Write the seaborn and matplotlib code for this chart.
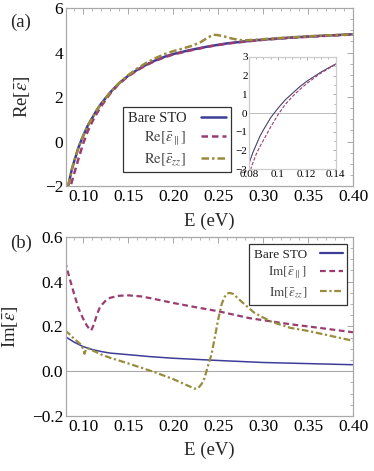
import numpy as np
import pandas as pd
import matplotlib
matplotlib.use("Agg")
import matplotlib.pyplot as plt
from matplotlib.ticker import MultipleLocator
from matplotlib.lines import Line2D
import seaborn as sns

# ---------------- data ----------------
E_re_bare = [0.080, 0.0825, 0.085, 0.0875, 0.09, 0.095, 0.10, 0.105, 0.11, 0.115, 0.12, 0.13,
             0.14, 0.15, 0.16, 0.17, 0.18, 0.19, 0.20, 0.22, 0.24, 0.26, 0.28, 0.30, 0.33, 0.36, 0.40]
re_bare = [-2.7, -2.15, -1.7, -1.25, -0.9, -0.25, 0.25, 0.7, 1.05, 1.4, 1.7, 2.2,
           2.62, 2.95, 3.22, 3.45, 3.64, 3.8, 3.93, 4.12, 4.28, 4.41, 4.5, 4.58, 4.67, 4.74, 4.82]

E_re_par = [0.080, 0.0825, 0.085, 0.0875, 0.09, 0.095, 0.10, 0.105, 0.11, 0.115, 0.12, 0.13,
            0.14, 0.15, 0.16, 0.17, 0.18, 0.19, 0.20, 0.22, 0.24, 0.26, 0.28, 0.30, 0.33, 0.36, 0.40]
re_par = [-3.3, -2.7, -2.2, -1.8, -1.45, -0.75, -0.1, 0.45, 0.88, 1.25, 1.58, 2.15,
          2.6, 2.93, 3.2, 3.43, 3.62, 3.78, 3.91, 4.1, 4.27, 4.4, 4.49, 4.57, 4.66, 4.73, 4.81]

E_re_zz = [0.080, 0.0825, 0.085, 0.0875, 0.09, 0.095, 0.10, 0.105, 0.11, 0.115, 0.12, 0.13,
           0.14, 0.15, 0.16, 0.17, 0.18, 0.19, 0.20, 0.21, 0.22, 0.23, 0.235, 0.24, 0.245,
           0.25, 0.255, 0.26, 0.265, 0.27, 0.275, 0.28, 0.29, 0.30, 0.33, 0.36, 0.40]
re_zz = [-2.7, -2.15, -1.7, -1.25, -0.9, -0.25, 0.25, 0.7, 1.05, 1.4, 1.7, 2.2,
         2.63, 2.98, 3.28, 3.53, 3.74, 3.92, 4.06, 4.17, 4.29, 4.45, 4.58, 4.7, 4.8,
         4.78, 4.74, 4.69, 4.63, 4.59, 4.56, 4.55, 4.57, 4.6, 4.68, 4.75, 4.82]

E_im_bare = [0.08, 0.09, 0.10, 0.11, 0.12, 0.13, 0.15, 0.175, 0.20, 0.25, 0.30, 0.35, 0.40]
im_bare = [0.155, 0.13, 0.11, 0.097, 0.088, 0.081, 0.074, 0.065, 0.058, 0.048, 0.039, 0.034, 0.029]

E_im_par = [0.08, 0.085, 0.09, 0.095, 0.10, 0.104, 0.107, 0.109, 0.111, 0.1135, 0.116, 0.119,
            0.125, 0.13, 0.14, 0.15, 0.165, 0.18, 0.20, 0.225, 0.25, 0.285, 0.30, 0.33, 0.36, 0.40]
im_par = [0.49, 0.415, 0.345, 0.28, 0.235, 0.205, 0.188, 0.182, 0.2, 0.229, 0.26, 0.289,
          0.315, 0.328, 0.337, 0.339, 0.334, 0.322, 0.305, 0.286, 0.268, 0.237, 0.228, 0.21, 0.195, 0.174]

E_im_zz = [0.08, 0.085, 0.09, 0.095, 0.098, 0.10, 0.1015, 0.103, 0.105, 0.108, 0.112, 0.12, 0.13,
           0.15, 0.165, 0.18, 0.20, 0.215, 0.224, 0.228, 0.232, 0.235, 0.239, 0.2427, 0.2465,
           0.25, 0.254, 0.257, 0.26, 0.263, 0.267, 0.276, 0.29, 0.30, 0.31, 0.33, 0.35, 0.375, 0.40]
im_zz = [0.182, 0.165, 0.145, 0.128, 0.118, 0.1, 0.078, 0.095, 0.103, 0.098, 0.09, 0.075, 0.06,
         0.035, 0.015, -0.005, -0.035, -0.062, -0.078, -0.075, -0.055, -0.03, 0.027, 0.075, 0.154,
         0.229, 0.3, 0.33, 0.347, 0.35, 0.345, 0.311, 0.262, 0.24, 0.22, 0.194, 0.18, 0.158, 0.136]

top_xticks = [0.10, 0.15, 0.20, 0.25, 0.30, 0.35, 0.40]
top_xlabels = ["0.10", "0.15", "0.20", "0.25", "0.30", "0.35", "0.40"]
top_yticks = [-2, 0, 2, 4, 6]
top_ylabels = ["\u22122", "0", "2", "4", "6"]
bot_yticks = [-0.2, 0.0, 0.2, 0.4, 0.6]
bot_ylabels = ["\u22120.2", "0.0", "0.2", "0.4", "0.6"]
ins_xticks = [0.08, 0.10, 0.12, 0.14]
ins_xlabels = ["0.08", "0.1", "0.12", "0.14"]
ins_yticks = [-3, -2, -1, 0, 1, 2, 3]
ins_ylabels = ["\u22123", "\u22122", "\u22121", "0", "1", "2", "3"]

labels_top = ["Bare STO", r"$\mathrm{Re}[\bar{\epsilon}_{\parallel}]$", r"$\mathrm{Re}[\bar{\epsilon}_{zz}]$"]
labels_bot = ["Bare STO", r"$\mathrm{Im}[\bar{\epsilon}_{\parallel}]$", r"$\mathrm{Im}[\bar{\epsilon}_{zz}]$"]

# ---------------- style ----------------
sns.set_theme(style="white")
plt.rcParams["font.family"] = ["Liberation Serif", "DejaVu Serif"]
plt.rcParams["mathtext.fontset"] = "stix"
plt.rcParams["axes.unicode_minus"] = True

C_BLUE = "#3d3d99"
C_PURP = "#993d71"
C_OLIV = "#998c3d"
FRAME = "#a8a8a8"
DASH = (0, (2.6, 1.6))
DASHDOT = (0, (3.0, 1.2, 1.0, 1.2))
TICKFS = 12.5
LABFS = 13.5

fig = plt.figure(figsize=(3.74, 4.71), dpi=100)
ax1 = fig.add_axes([0.1765, 0.605, 0.7675, 0.378])
ax2 = fig.add_axes([0.1765, 0.1168, 0.7675, 0.3802])


def frame(ax, fs=TICKFS, major=4, minor=2):
    for s in ax.spines.values():
        s.set_color(FRAME)
        s.set_linewidth(0.9)
    ax.tick_params(which="both", direction="in", top=True, right=True,
                   color=FRAME, labelsize=fs, labelcolor="black", pad=2)
    ax.tick_params(which="major", length=major, width=0.7)
    ax.tick_params(which="minor", length=minor, width=0.6)


def draw(ax, E, y, color, ls, lw):
    df = pd.DataFrame({"E": E, "v": y})
    sns.lineplot(data=df, x="E", y="v", ax=ax, color=color, linestyle=ls,
                 linewidth=lw, estimator=None, sort=False)


# ----- top panel -----
draw(ax1, E_re_bare, re_bare, C_BLUE, "-", 1.8)
draw(ax1, E_re_par, re_par, C_PURP, DASH, 1.8)
draw(ax1, E_re_zz, re_zz, C_OLIV, DASHDOT, 1.8)
ax1.set_xlim(0.081, 0.40)
ax1.set_ylim(-2, 6)
ax1.set_xticks(top_xticks, top_xlabels)
ax1.set_yticks(top_yticks, top_ylabels)
ax1.xaxis.set_minor_locator(MultipleLocator(0.01))
ax1.yaxis.set_minor_locator(MultipleLocator(0.5))
frame(ax1)
ax1.set_xlabel("E (eV)", fontsize=LABFS, labelpad=6)
ax1.set_ylabel(r"Re[$\bar{\epsilon}$]", fontsize=LABFS)
ax1.yaxis.set_label_coords(-0.118, 0.5)
fig.text(0.027, 0.953, "(a)", fontsize=LABFS, va="center")

handles = [Line2D([], [], color=C_BLUE, lw=1.8, ls="-"),
           Line2D([], [], color=C_PURP, lw=1.8, ls=DASH),
           Line2D([], [], color=C_OLIV, lw=1.8, ls=DASHDOT)]
leg1 = ax1.legend(handles, labels_top, loc="upper left", bbox_to_anchor=(0.198, 0.445),
                  markerfirst=False, frameon=True, fancybox=False, fontsize=10.5,
                  handlelength=1.7, handletextpad=1.0, labelspacing=0.3,
                  borderpad=0.35, borderaxespad=0)
leg1.get_frame().set_edgecolor("black")
leg1.get_frame().set_linewidth(0.9)
for t in leg1.get_texts()[1:]:
    t.set_color("#444444")

# inset
axi = fig.add_axes([0.6658, 0.641, 0.2316, 0.238])
draw(axi, E_re_zz, re_zz, C_OLIV, "-", 0.7)
draw(axi, E_re_bare, re_bare, C_BLUE, "-", 0.6)
draw(axi, E_re_par, re_par, C_PURP, (0, (3, 1.5)), 0.8)
axi.axhline(0, color="#bbbbbb", lw=0.7, zorder=0)
axi.set_xlim(0.08, 0.14)
axi.set_ylim(-3, 3)
axi.set_xticks(ins_xticks, ins_xlabels)
axi.set_yticks(ins_yticks, ins_ylabels)
axi.xaxis.set_minor_locator(MultipleLocator(0.005))
axi.yaxis.set_minor_locator(MultipleLocator(0.5))
frame(axi, fs=8, major=2.5, minor=1.3)
for s in axi.spines.values():
    s.set_color("#cccccc")
axi.tick_params(pad=1)
axi.set_xlabel("")
axi.set_ylabel("")
axi.set_facecolor("white")

# ----- bottom panel -----
draw(ax2, E_im_bare, im_bare, C_BLUE, "-", 1.1)
draw(ax2, E_im_par, im_par, C_PURP, DASH, 1.6)
draw(ax2, E_im_zz, im_zz, C_OLIV, DASHDOT, 1.6)
ax2.axhline(0, color="#aaaaaa", lw=0.8, zorder=0)
ax2.set_xlim(0.081, 0.40)
ax2.set_ylim(-0.2, 0.6)
ax2.set_xticks(top_xticks, top_xlabels)
ax2.set_yticks(bot_yticks, bot_ylabels)
ax2.xaxis.set_minor_locator(MultipleLocator(0.01))
ax2.yaxis.set_minor_locator(MultipleLocator(0.05))
frame(ax2)
ax2.set_xlabel("E (eV)", fontsize=LABFS, labelpad=5)
ax2.set_ylabel(r"Im[$\bar{\epsilon}$]", fontsize=LABFS)
ax2.yaxis.set_label_coords(-0.160, 0.5)
fig.text(0.027, 0.484, "(b)", fontsize=LABFS, va="center")

handles2 = [Line2D([], [], color=C_BLUE, lw=1.6, ls="-"),
            Line2D([], [], color=C_PURP, lw=1.6, ls=DASH),
            Line2D([], [], color=C_OLIV, lw=1.6, ls=DASHDOT)]
leg2 = ax2.legend(handles2, labels_bot, loc="upper right", bbox_to_anchor=(0.98, 0.96),
                  markerfirst=False, frameon=True, fancybox=False, fontsize=9.5,
                  handlelength=1.7, handletextpad=1.0, labelspacing=0.3,
                  borderpad=0.35, borderaxespad=0)
leg2.get_frame().set_edgecolor("black")
leg2.get_frame().set_linewidth(0.9)
for t in leg2.get_texts()[1:]:
    t.set_color("#444444")

fig.savefig("out.png", dpi=100)
